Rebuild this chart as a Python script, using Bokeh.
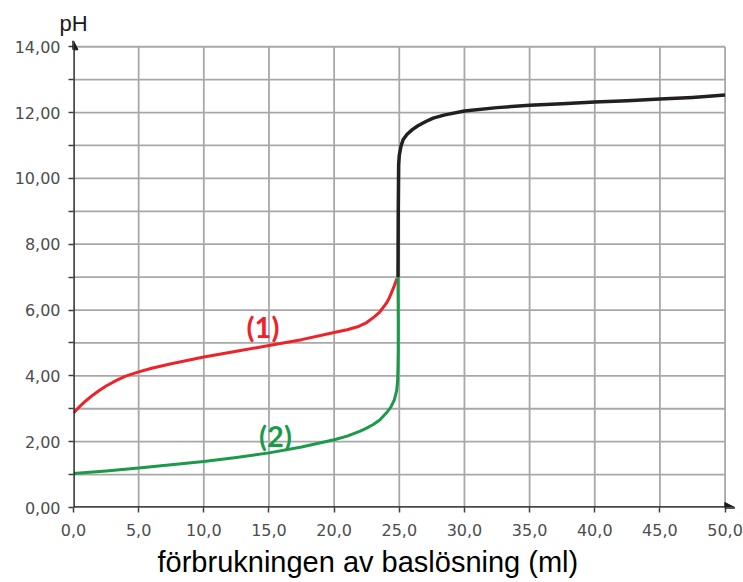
from bokeh.plotting import figure
from bokeh.models import FixedTicker, Arrow, NormalHead, Label, Title
from bokeh.embed import file_html
from bokeh.resources import INLINE

# ---- data ----
red_x = [0, 0.5, 1, 1.5, 2, 2.5, 3, 3.5, 4, 5, 6, 7.5, 10, 12.5, 15, 17.5, 20, 21, 21.8, 22.5, 23.1, 23.5, 24, 24.2, 24.37, 24.6, 24.82]
red_ph = [2.87, 3.08, 3.26, 3.42, 3.56, 3.69, 3.8, 3.9, 3.99, 4.12, 4.23, 4.37, 4.57, 4.75, 4.92, 5.1, 5.32, 5.4, 5.49, 5.62, 5.8, 5.94, 6.2, 6.34, 6.5, 6.72, 6.96]

green_x = [0, 2.5, 5, 7.5, 10, 12.5, 15, 17.5, 20, 21, 22, 22.5, 23, 23.5, 24, 24.35, 24.62, 24.8, 24.87, 24.9, 24.92, 24.92, 24.9]
green_ph = [1.03, 1.11, 1.2, 1.3, 1.4, 1.52, 1.66, 1.84, 2.06, 2.17, 2.32, 2.41, 2.52, 2.66, 2.87, 3.05, 3.27, 3.55, 3.85, 4.3, 4.8, 5.8, 7.0]

black_x = [24.9, 24.92, 24.95, 25.0, 25.13, 25.3, 25.6, 26.0, 26.4, 27.0, 27.6, 28.5, 30, 32.5, 35, 37.5, 40, 42.5, 45, 47.5, 50]
black_ph = [7.0, 9.0, 10.4, 10.7, 10.98, 11.18, 11.34, 11.48, 11.59, 11.72, 11.83, 11.93, 12.05, 12.15, 12.22, 12.27, 12.32, 12.36, 12.41, 12.46, 12.53]

x_ticks = [0, 5, 10, 15, 20, 25, 30, 35, 40, 45, 50]
x_tick_labels = ["0,0", "5,0", "10,0", "15,0", "20,0", "25,0", "30,0", "35,0", "40,0", "45,0", "50,0"]
y_ticks = [0, 2, 4, 6, 8, 10, 12, 14]
y_tick_labels = ["0,00", "2,00", "4,00", "6,00", "8,00", "10,00", "12,00", "14,00"]
y_minor_ticks = [1, 3, 5, 7, 9, 11, 13]
y_grid = list(range(0, 15))
x_grid = x_ticks

curve_labels = ["(1)", "(2)"]
x_title = "förbrukningen av baslösning (ml)"
y_title = "pH"

# ---- figure ----
p = figure(width=743, height=582, x_range=(0, 50.8), y_range=(0, 14.22),
           output_backend="svg", toolbar_location=None,
           min_border_left=73, min_border_right=8, min_border_top=39, min_border_bottom=74)
p.outline_line_color = None
p.xgrid.visible = False
p.ygrid.visible = False

grid_color = "#a8a8a8"
n_x = len(x_grid)
n_y = len(y_grid)
p.segment(x0=x_grid, y0=[min(y_grid)] * n_x, x1=x_grid, y1=[max(y_grid)] * n_x,
          line_color=grid_color, line_width=1.8)
p.segment(x0=[min(x_grid)] * n_y, y0=y_grid, x1=[max(x_grid)] * n_y, y1=y_grid,
          line_color=grid_color, line_width=1.8)

# axes
tick_col = "#404040"
lab_col = "#4d4d4d"
p.xaxis.ticker = FixedTicker(ticks=x_ticks)
p.xaxis.major_label_overrides = dict(zip(x_ticks, x_tick_labels))
p.yaxis.ticker = FixedTicker(ticks=y_ticks, minor_ticks=y_minor_ticks)
p.yaxis.major_label_overrides = dict(zip(y_ticks, y_tick_labels))
for ax in (p.xaxis, p.yaxis):
    ax.axis_line_color = None
    ax.major_tick_in = 0
    ax.major_tick_out = 5
    ax.minor_tick_in = 0
    ax.minor_tick_out = 5
    ax.major_tick_line_color = tick_col
    ax.minor_tick_line_color = tick_col
    ax.major_tick_line_width = 1.5
    ax.minor_tick_line_width = 1.5
    ax.major_label_text_font = "DejaVu Sans"
    ax.major_label_text_font_size = "16px"
    ax.major_label_text_color = lab_col
p.xaxis.minor_tick_out = 0
p.xaxis.major_label_standoff = 11
p.yaxis.major_label_standoff = 8

# axis arrows
p.add_layout(Arrow(end=NormalHead(size=10, fill_color="#1a1a1a", line_color="#1a1a1a"),
                   x_start=0, y_start=0, x_end=50.75, y_end=0,
                   line_color="#1a1a1a", line_width=2.5))
p.add_layout(Arrow(end=NormalHead(size=9, fill_color="#1a1a1a", line_color="#1a1a1a"),
                   x_start=0, y_start=0, x_end=0, y_end=14.18,
                   line_color="#1a1a1a", line_width=2.5))

# curves
p.line(red_x, red_ph, line_color="#ee2229", line_width=3, line_join="round")
p.line(green_x, green_ph, line_color="#1b9a4a", line_width=3, line_join="round")
p.line(black_x, black_ph, line_color="#231f20", line_width=3.5, line_join="round")

# curve labels
p.add_layout(Label(x=14.54, y=5.5, text=curve_labels[0], text_font="Lato", text_font_style="bold",
                   text_font_size="29px", text_color="#ee2229", text_align="center", text_baseline="middle"))
p.add_layout(Label(x=15.5, y=2.2, text=curve_labels[1], text_font="Lato", text_font_style="bold",
                   text_font_size="29px", text_color="#1b9a4a", text_align="center", text_baseline="middle"))

# axis titles (side panels, so they are not clipped by the frame)
p.add_layout(Title(text=y_title, align="left", offset=-14, standoff=7, vertical_align="bottom",
                   text_font="Liberation Sans", text_font_size="22px", text_font_style="normal",
                   text_color="#1a1a1a"), "above")
p.add_layout(Title(text=x_title, align="left", offset=84, standoff=10, vertical_align="bottom",
                   text_line_height=1.35,
                   text_font="Liberation Sans", text_font_size="29px", text_font_style="normal",
                   text_color="#000000"), "below")

with open("out.html", "w", encoding="utf-8") as f:
    f.write(file_html(p, INLINE))
